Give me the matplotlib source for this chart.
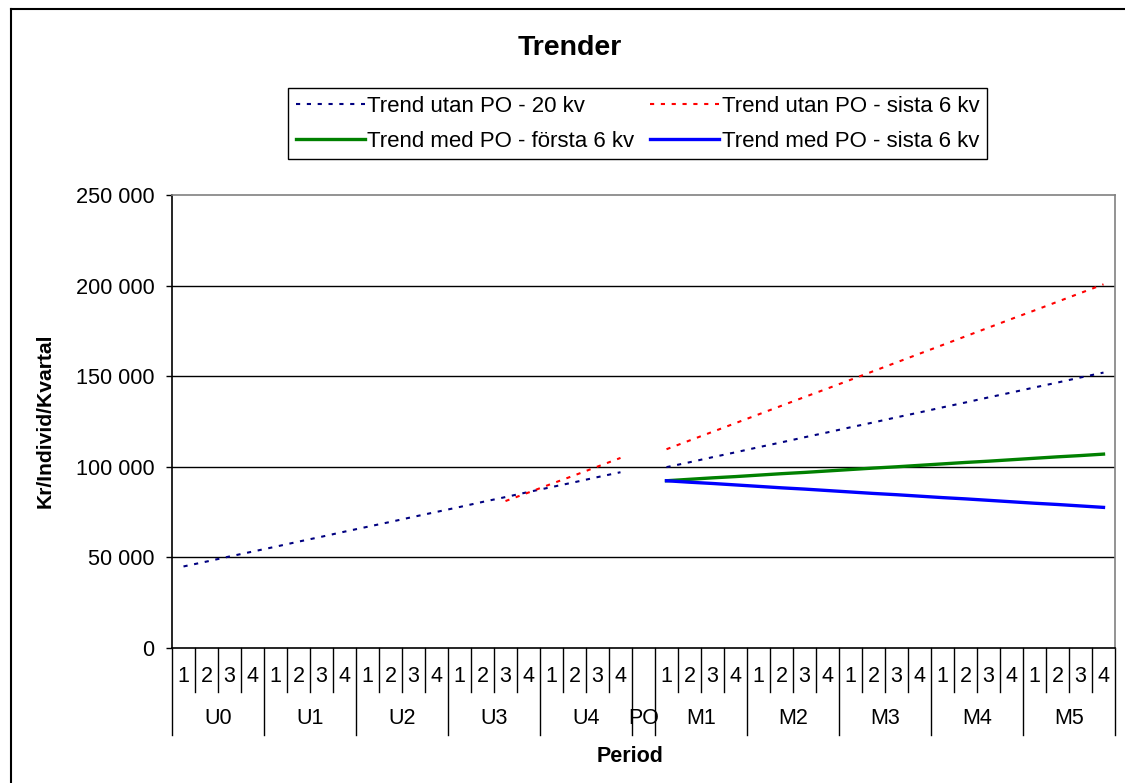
import matplotlib
matplotlib.use("Agg")
import matplotlib.pyplot as plt
import numpy as np
from matplotlib.lines import Line2D

plt.rcParams['font.family'] = ['Liberation Sans', 'DejaVu Sans']

# ---------------- data ----------------
groups_u = ["U0", "U1", "U2", "U3", "U4"]
groups_m = ["M1", "M2", "M3", "M4", "M5"]
quarters = ["1", "2", "3", "4"]
nan = np.nan

trend_utan_20 = [45000, 47700, 50500, 53200, 55900, 58700, 61400, 64200, 66900, 69600,
                 72400, 75100, 77800, 80600, 83300, 86100, 88800, 91500, 94300, 97000,
                 nan,
                 99800, 102500, 105300, 108000, 110800, 113500, 116300, 119000, 121800, 124500,
                 127300, 130000, 132800, 135500, 138300, 141000, 143800, 146500, 149300, 152000]
trend_utan_6 = [nan] * 14 + [81100, 85800, 90600, 95300, 100100, 104900,
                             nan,
                             109700, 114500, 119300, 124100, 128900, 133700, 138500, 143200,
                             148000, 152800, 157600, 162400, 167200, 172000, 176800, 181600,
                             186300, 191100, 195900, 200700]
trend_med_forsta = [nan] * 21 + [92300, 93100, 93900, 94600, 95400, 96200, 96900, 97700,
                                 98500, 99300, 100000, 100800, 101600, 102400, 103100,
                                 103900, 104700, 105500, 106200, 107000]
trend_med_sista = [nan] * 21 + [92300, 91500, 90800, 90000, 89200, 88400, 87700, 86900,
                                86100, 85300, 84600, 83800, 83000, 82300, 81500, 80700,
                                79900, 79200, 78400, 77600]

series_labels = ["Trend utan PO - 20 kv", "Trend utan PO - sista 6 kv",
                 "Trend med PO - första 6 kv", "Trend med PO - sista 6 kv"]
y_ticks = [0, 50000, 100000, 150000, 200000, 250000]

# category structure
quarter_labels = quarters * len(groups_u) + [""] + quarters * len(groups_m)
group_labels = groups_u + ["PO"] + groups_m
group_sizes = [4] * len(groups_u) + [1] + [4] * len(groups_m)
n = len(quarter_labels)
x = np.arange(n)

# ---------------- figure ----------------
W, H = 1125, 783
fig = plt.figure(figsize=(W / 100, H / 100), dpi=100)
L, R, T, B = 172, 1115, 195, 648
ax = fig.add_axes([L / W, 1 - B / H, (R - L) / W, (B - T) / H])

dot = (0, (2, 3.2))
l1, = ax.plot(x, trend_utan_20, color='#000080', lw=1.5, ls=dot, zorder=3)
l2, = ax.plot(x, trend_utan_6, color='#FF0000', lw=1.5, ls=dot, zorder=3)
l3, = ax.plot(x, trend_med_forsta, color='#008000', lw=2.4, zorder=4)
l4, = ax.plot(x, trend_med_sista, color='#0000FF', lw=2.4, zorder=4)

ax.set_xlim(-0.5, n - 0.5)
ax.set_ylim(y_ticks[0], y_ticks[-1])
ax.set_yticks(y_ticks)
ax.set_yticklabels([f"{v:,}".replace(",", " ") for v in y_ticks], fontsize=15.7)
ax.tick_params(axis='y', direction='out', length=4.5, width=1, pad=8, colors='black')
ax.set_xticks([])

for v in y_ticks[1:-1]:
    ax.axhline(v, color='black', lw=1, zorder=1)

for s in ['top', 'right']:
    ax.spines[s].set_color('#808080')
    ax.spines[s].set_linewidth(1.2)
for s in ['left', 'bottom']:
    ax.spines[s].set_color('black')
    ax.spines[s].set_linewidth(1.2)

# multi-level category axis
tr = ax.get_xaxis_transform()
ph = B - T
y_short = -(692 - B) / ph
y_long = -(735 - B) / ph
y_q = -(677 - B) / ph
y_g = -(719 - B) / ph

bounds = [-0.5]
for sz in group_sizes:
    bounds.append(bounds[-1] + sz)
for b in np.arange(-0.5, n, 1.0):
    if b not in bounds:
        ax.plot([b, b], [0, y_short], transform=tr, color='black', lw=1, clip_on=False)
for b in bounds:
    ax.plot([b, b], [0, y_long], transform=tr, color='black', lw=1, clip_on=False)

for i, lab in enumerate(quarter_labels):
    if lab:
        ax.text(i, y_q, lab, transform=tr, ha='center', va='center', fontsize=15.5)
for gi, lab in enumerate(group_labels):
    c = (bounds[gi] + bounds[gi + 1]) / 2
    ax.text(c, y_g, lab, transform=tr, ha='center', va='center', fontsize=15.5)

# labels and title
fig.text(45 / W, 1 - 421 / H, "Kr/Individ/Kvartal", rotation=90, ha='center', va='center',
         fontsize=15.2, fontweight='bold')
fig.text(630 / W, 1 - 756 / H, "Period", ha='center', va='center', fontsize=15.5, fontweight='bold')
fig.text(570 / W, 1 - 48 / H, "Trender", ha='center', va='center', fontsize=20.5, fontweight='bold')

# legend
leg = fig.legend([l1, l3, l2, l4],
                 [series_labels[0], series_labels[2], series_labels[1], series_labels[3]],
                 ncol=2, loc='upper left', bbox_to_anchor=(288 / W, 1 - 88 / H),
                 bbox_transform=fig.transFigure, borderaxespad=0, fontsize=16,
                 frameon=True, fancybox=False, edgecolor='black', framealpha=1,
                 handlelength=3.1, handletextpad=0.12, columnspacing=0.7,
                 labelspacing=0.62, borderpad=0.35)
leg.get_frame().set_linewidth(1)

# outer chart border (left and top only visible)
fig.add_artist(Line2D([11 / W, 11 / W], [0, 1 - 9 / H], color='black', lw=1.5,
                      transform=fig.transFigure))
fig.add_artist(Line2D([11 / W, 1], [1 - 9 / H, 1 - 9 / H], color='black', lw=1.5,
                      transform=fig.transFigure))

fig.savefig("out.png", dpi=100)
